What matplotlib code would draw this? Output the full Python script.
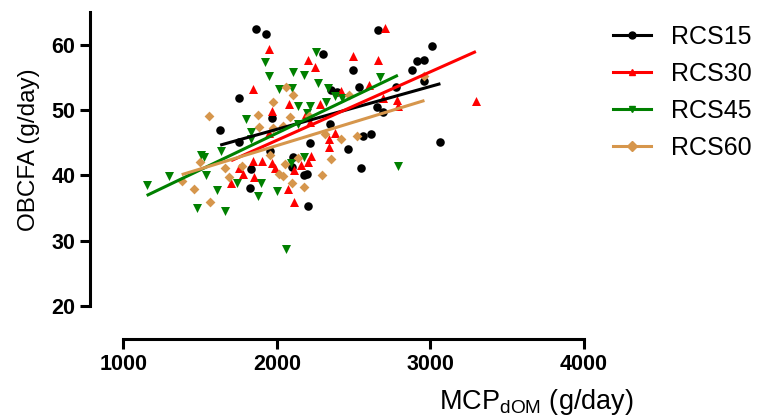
import matplotlib
matplotlib.use('Agg')
import matplotlib.pyplot as plt
from matplotlib.lines import Line2D
import numpy as np

plt.rcParams['font.family'] = ['Liberation Sans', 'DejaVu Sans']
plt.rcParams['mathtext.fontset'] = 'custom'
plt.rcParams['mathtext.rm'] = 'Liberation Sans'

# MCP_dOM (g/day) and OBCFA (g/day)
rcs15_x = [1863, 1930, 1756, 1971, 1631, 1756, 1830, 1825, 2303, 2495, 2661, 2353,
           2392, 2536, 2347, 2614, 2564, 2216, 3009, 2911, 2961, 2883, 2955, 2775,
           2651, 2694, 3065, 2461, 2549, 2195, 2174, 2108, 2097, 1956, 2205]
rcs15_y = [62.4, 61.7, 51.9, 48.8, 46.9, 45.1, 41.0, 38.1, 58.6, 56.1, 62.2, 53.0,
           52.7, 53.5, 47.8, 46.3, 46.0, 45.0, 59.8, 57.5, 57.6, 56.2, 54.5, 53.5,
           50.5, 49.7, 45.1, 44.0, 41.1, 40.3, 40.1, 42.9, 41.3, 43.7, 35.4]

rcs30_x = [1951, 1845, 1971, 1949, 1782, 1756, 1843, 1902, 1852, 1702, 1967, 1988,
           2201, 2249, 2495, 2081, 2282, 2418, 2603, 2190, 2216, 2379, 2705, 2657,
           2694, 2781, 2788, 3296, 2340, 2340, 2223, 2201, 2158, 2114, 2071, 2114]
rcs30_y = [59.3, 53.3, 49.8, 46.5, 40.3, 41.1, 42.2, 42.2, 39.8, 38.9, 41.9, 41.2,
           57.6, 56.6, 58.3, 50.9, 50.9, 52.9, 53.8, 49.4, 48.2, 46.5, 62.5, 57.7,
           51.9, 51.6, 50.6, 51.4, 45.6, 44.4, 43.0, 42.0, 41.6, 40.9, 37.9, 36.0]

rcs45_x = [1923, 1951, 2016, 1799, 1829, 1829, 1506, 1523, 1635, 1298, 1539, 1152,
           1608, 1481, 1664, 1743, 2255, 2108, 2179, 2267, 2099, 2140, 2216, 2319,
           2332, 2379, 2427, 2195, 2140, 2669, 2179, 2093, 1897, 1876, 2003, 2060, 2788]
rcs45_y = [57.3, 55.2, 53.2, 48.7, 46.6, 45.6, 43.2, 42.8, 43.7, 39.9, 40.1, 38.5,
           37.8, 35.0, 34.6, 38.8, 58.9, 55.9, 55.3, 54.1, 53.4, 50.7, 50.6, 51.2,
           53.4, 52.1, 51.9, 49.6, 47.8, 55.1, 42.9, 41.9, 38.9, 36.9, 37.6, 28.8, 41.4]

rcs60_x = [1556, 1876, 1884, 1972, 1973, 1956, 1500, 1663, 1690, 1461, 1567, 1380,
           2058, 2108, 2086, 2212, 2042, 2314, 2420, 2523, 2472, 2961, 2353, 2293,
           2140, 2053, 2014, 2042, 2097, 2177, 1773]
rcs60_y = [49.1, 49.3, 47.4, 51.3, 47.2, 43.2, 42.0, 41.1, 39.8, 38.0, 36.0, 39.2,
           53.6, 52.3, 49.0, 49.1, 47.5, 46.4, 45.6, 46.0, 52.3, 55.2, 42.5, 40.1,
           42.6, 41.7, 40.2, 39.9, 38.9, 38.2, 41.5]

series = [
    ('RCS15', rcs15_x, rcs15_y, 'black', 'o', 38),
    ('RCS30', rcs30_x, rcs30_y, '#FF0000', '^', 42),
    ('RCS45', rcs45_x, rcs45_y, '#008000', 'v', 42),
    ('RCS60', rcs60_x, rcs60_y, '#D6964C', 'D', 25),
]

fig = plt.figure(figsize=(7.62, 4.18), dpi=100)
ax = fig.add_axes([0.1181, 0.189, 0.6483, 0.7823])

handles = []
for name, xs, ys, color, marker, size in series:
    ax.scatter(xs, ys, s=size, marker=marker, color=color, linewidths=0,
               clip_on=False, zorder=2)
for name, xs, ys, color, marker, size in series:
    xs = np.array(xs)
    ys = np.array(ys)
    slope, inter = np.polyfit(xs, ys, 1)
    lx = np.array([xs.min(), xs.max()])
    ax.plot(lx, slope * lx + inter, color=color, lw=2.2, zorder=3,
            solid_capstyle='butt')
    handles.append(Line2D([0], [0], color=color, lw=2.2, marker=marker,
                          markersize=5, label=name))

ax.set_xlim(783, 4000)
ax.set_ylim(15, 65)
ax.set_xticks([1000, 2000, 3000, 4000])
ax.set_yticks([20, 30, 40, 50, 60])
for side in ['top', 'right']:
    ax.spines[side].set_visible(False)
ax.spines['left'].set_bounds(20, 65)
ax.spines['bottom'].set_bounds(1000, 4000)
for side in ['left', 'bottom']:
    ax.spines[side].set_linewidth(2.2)
ax.tick_params(width=2.2, length=7, labelsize=15.5)
for lab in ax.get_xticklabels() + ax.get_yticklabels():
    lab.set_fontweight('bold')

ax.set_ylabel('OBCFA (g/day)', fontsize=17.5)
ax.yaxis.set_label_coords(-0.101, 0.578)
ax.set_xlabel(r'MCP$_{\mathrm{dOM}}$ (g/day)', fontsize=19.5)
ax.xaxis.set_label_coords(0.903, -0.148)

fig.legend(handles=handles, loc='upper left', bbox_to_anchor=(0.805, 0.94),
           frameon=False, fontsize=18, handlelength=1.5, handletextpad=0.8,
           labelspacing=0.52, borderpad=0, borderaxespad=0)

fig.savefig('out.png', dpi=100)
